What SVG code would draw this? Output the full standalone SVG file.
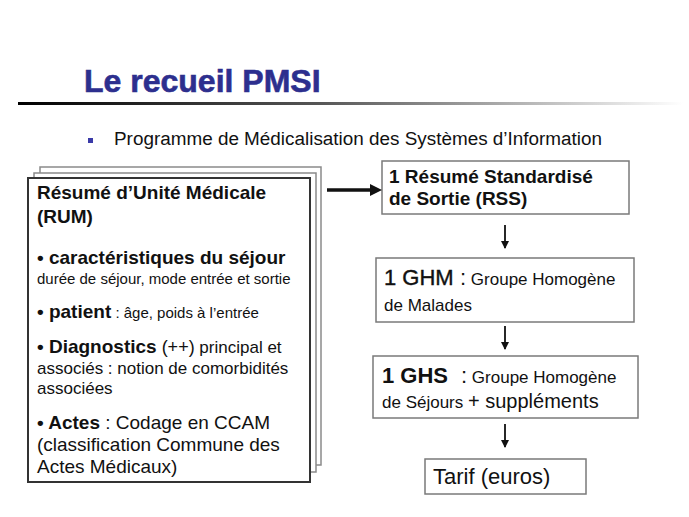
<svg xmlns="http://www.w3.org/2000/svg" width="689" height="517" viewBox="0 0 689 517">
  <style>
    text { font-family: "Liberation Sans", Arial, sans-serif; fill: #111; }
    .b { font-weight: bold; }
    .box { fill: #fff; stroke: #7a7a7a; stroke-width: 1.5; }
    .page { fill: #fff; stroke: #8a8a8a; stroke-width: 1.5; }
    .front { fill: #fff; stroke: #333; stroke-width: 2; }
    .conn { stroke: #111; fill: none; }
  </style>
  <defs>
    <linearGradient id="rule" x1="0" y1="0" x2="1" y2="0">
      <stop offset="0" stop-color="#000"/>
      <stop offset="0.45" stop-color="#555"/>
      <stop offset="1" stop-color="#fff"/>
    </linearGradient>
    <marker id="ah" markerWidth="8" markerHeight="8" refX="7" refY="4" orient="auto" markerUnits="userSpaceOnUse">
      <path d="M0,0 L8,4 L0,8 z" fill="#111"/>
    </marker>
  </defs>
  <rect width="689" height="517" fill="#fff"/>

  <g id="header">
    <text x="84" y="92" class="b" font-size="32" style="fill:#2d2f8e;stroke:#2d2f8e;stroke-width:0.6">Le recueil PMSI</text>
    <rect x="18" y="102" width="665" height="3" fill="url(#rule)"/>
    <rect x="88" y="138" width="5" height="5" fill="#3a3aa8"/>
    <text x="114" y="145" font-size="18" textLength="488" lengthAdjust="spacingAndGlyphs">Programme de Médicalisation des Systèmes d’Information</text>
  </g>

  <g id="rum">
    <rect class="page" x="40" y="167" width="281" height="298"/>
    <rect class="page" x="34" y="173" width="282" height="299"/>
    <rect class="front" x="28" y="178" width="282" height="304"/>
    <text x="37" y="199" class="b" font-size="19">Résumé d’Unité Médicale</text>
    <text x="37" y="223" class="b" font-size="19">(RUM)</text>
    <text x="37" y="264" class="b" font-size="19">• caractéristiques du séjour</text>
    <text x="37" y="284" font-size="15">durée de séjour, mode entrée et sortie</text>
    <text x="37" y="318"><tspan class="b" font-size="19">• patient</tspan><tspan font-size="15"> : âge, poids à l’entrée</tspan></text>
    <text x="37" y="353"><tspan class="b" font-size="19">• Diagnostics</tspan><tspan font-size="18"> (++)</tspan><tspan font-size="17"> principal et</tspan></text>
    <text x="37" y="374" font-size="17">associés : notion de comorbidités</text>
    <text x="37" y="394" font-size="17">associées</text>
    <text x="37" y="429"><tspan class="b" font-size="19">• Actes</tspan><tspan font-size="19"> : Codage en CCAM</tspan></text>
    <text x="37" y="451" font-size="19">(classification Commune des</text>
    <text x="37" y="473" font-size="19">Actes Médicaux)</text>
  </g>

  <g id="rss">
    <rect class="box" x="382" y="161" width="247" height="53"/>
    <text x="389" y="183" class="b" font-size="19">1 Résumé Standardisé</text>
    <text x="389" y="205" class="b" font-size="19">de Sortie (RSS)</text>
  </g>

  <g id="ghm">
    <rect class="box" x="376" y="258" width="258" height="64"/>
    <text x="384" y="285"><tspan font-size="22" style="stroke:#111;stroke-width:0.4">1 GHM</tspan><tspan x="460" font-size="22">:</tspan><tspan font-size="17"> Groupe Homogène</tspan></text>
    <text x="384" y="311" font-size="17">de Malades</text>
  </g>

  <g id="ghs">
    <rect class="box" x="373" y="356" width="265" height="62"/>
    <text x="382" y="383"><tspan class="b" font-size="22">1 GHS</tspan><tspan x="461" font-size="22">:</tspan><tspan font-size="17"> Groupe Homogène</tspan></text>
    <text x="382" y="408"><tspan font-size="17">de Séjours </tspan><tspan font-size="20">+ suppléments</tspan></text>
  </g>

  <g id="tarif">
    <rect class="box" x="425" y="459" width="161" height="35"/>
    <text x="433" y="484" font-size="22">Tarif (euros)</text>
  </g>

  <g id="connectors">
    <line class="conn" x1="327" y1="190" x2="372" y2="190" stroke-width="3.5"/>
    <path d="M370,184 L382,190 L370,196 z" fill="#111"/>
    <line class="conn" x1="505" y1="225" x2="505" y2="248" stroke-width="1.8" marker-end="url(#ah)"/>
    <line class="conn" x1="505" y1="326" x2="505" y2="349" stroke-width="1.8" marker-end="url(#ah)"/>
    <line class="conn" x1="505" y1="424" x2="505" y2="447" stroke-width="1.8" marker-end="url(#ah)"/>
  </g>
</svg>
